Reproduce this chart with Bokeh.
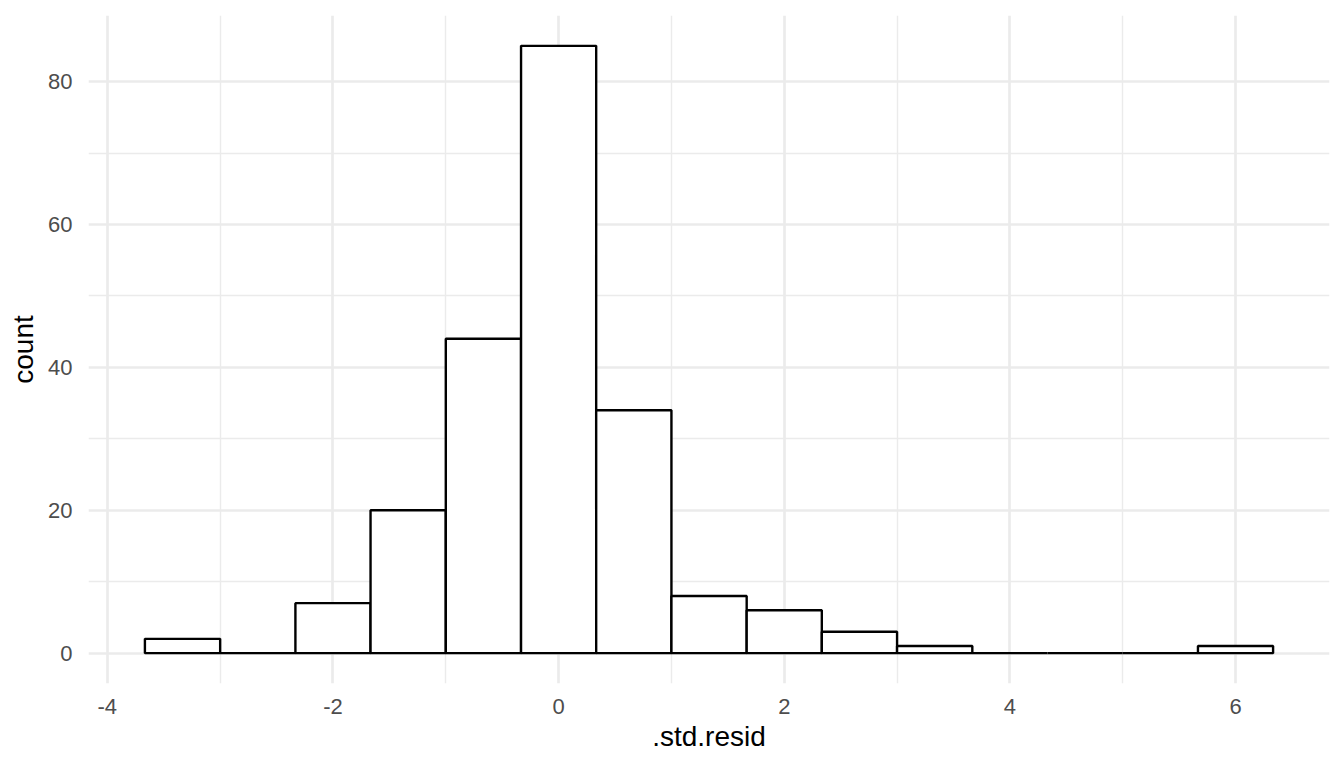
from bokeh.plotting import figure
from bokeh.models import Range1d, FixedTicker, ColumnDataSource, PrintfTickFormatter
from bokeh.embed import file_html
from bokeh.resources import INLINE

# Histogram of standardized residuals (15 bins)
bin_left = [-3.667, -3.0, -2.333, -1.667, -1.0, -0.333, 0.333, 1.0, 1.667, 2.333, 3.0, 3.667, 4.333, 5.0, 5.667]
bin_right = [-3.0, -2.333, -1.667, -1.0, -0.333, 0.333, 1.0, 1.667, 2.333, 3.0, 3.667, 4.333, 5.0, 5.667, 6.333]
counts = [2, 0, 7, 20, 44, 85, 34, 8, 6, 3, 1, 0, 0, 0, 1]

x_major = [-4, -2, 0, 2, 4, 6]
x_minor = [-5, -3, -1, 1, 3, 5, 7]
y_major = [0, 20, 40, 60, 80]
y_minor = [10, 30, 50, 70]

FONT = "Liberation Sans"

p = figure(width=1336, height=760, output_backend="svg", toolbar_location=None,
           x_range=Range1d(-4.167, 6.833), y_range=Range1d(-4.25, 89.25),
           min_border_left=88, min_border_right=7, min_border_top=15, min_border_bottom=77,
           x_axis_label=".std.resid", y_axis_label="count")
p.outline_line_color = None
p.background_fill_color = "white"
p.border_fill_color = "white"

src = ColumnDataSource(dict(left=bin_left, right=bin_right, top=counts, bottom=[0] * len(counts)))
p.quad(left="left", right="right", top="top", bottom="bottom", source=src,
       fill_color="white", line_color="black", line_width=2.4)

p.xaxis.ticker = FixedTicker(ticks=x_major, minor_ticks=x_minor)
p.yaxis.ticker = FixedTicker(ticks=y_major, minor_ticks=y_minor)

for ax in (p.xaxis, p.yaxis):
    ax.formatter = PrintfTickFormatter(format="%d")
    ax.axis_line_color = None
    ax.major_tick_line_color = None
    ax.minor_tick_line_color = None
    ax.major_label_text_font = FONT
    ax.major_label_text_font_size = "22px"
    ax.major_label_text_color = "#4D4D4D"
    ax.axis_label_text_font = FONT
    ax.axis_label_text_font_size = "28px"
    ax.axis_label_text_font_style = "normal"
    ax.axis_label_text_color = "black"

p.xaxis.major_label_standoff = 9
p.xaxis.axis_label_standoff = 4
p.yaxis.major_label_standoff = 10
p.yaxis.axis_label_standoff = 6

for g in (p.xgrid, p.ygrid):
    g.grid_line_color = "#EBEBEB"
    g.grid_line_width = 2.7
    g.minor_grid_line_color = "#EBEBEB"
    g.minor_grid_line_width = 1.4

open("out.html", "w").write(file_html(p, INLINE))
